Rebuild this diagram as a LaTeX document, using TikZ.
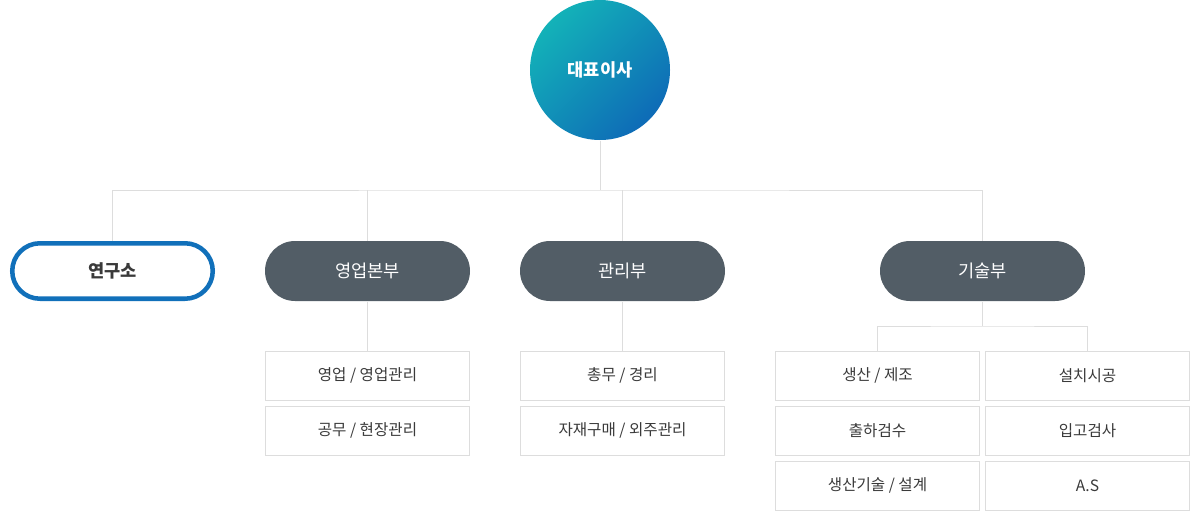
\documentclass[tikz,border=0pt]{standalone}
\usepackage{fontspec}
\setmainfont{Noto Sans CJK KR}
\usetikzlibrary{shapes.misc}
\definecolor{ceoTeal}{HTML}{13B2B8}
\definecolor{ceoBlue}{HTML}{0E6BB7}
\definecolor{deptGray}{HTML}{525D66}
\definecolor{labBlue}{HTML}{1170BA}
\definecolor{lineGray}{HTML}{DDDDDD}
\definecolor{textGray}{HTML}{3A3A3A}
\tikzset{every picture/.style={line width=0.75pt},
  link/.style={draw=lineGray, line width=0.75pt},
  dept/.style={rounded rectangle, fill=deptGray, text=white, minimum width=153.75pt, minimum height=45pt, inner sep=0pt, font=\fontsize{13.2pt}{15pt}\selectfont},
  labdept/.style={rounded rectangle, draw=labBlue, line width=3.4pt, fill=white, text=textGray, minimum width=150.4pt, minimum height=41.6pt, inner sep=0pt, font=\fontsize{13.2pt}{15pt}\selectfont\bfseries},
  team/.style={rectangle, draw=lineGray, line width=0.75pt, fill=white, text=textGray, minimum width=153pt, minimum height=36.75pt, inner sep=0pt, font=\fontsize{11.7pt}{14pt}\selectfont}
}

\begin{document}
\begin{tikzpicture}[x=0.75pt,y=0.75pt,yscale=-1,xscale=1]
\useasboundingbox (0,0) rectangle (1200,511);

%Circle
\node (ceo) [circle, minimum size=105pt, inner sep=0pt, top color=ceoTeal, bottom color=ceoBlue, shading angle=45, text=white, font=\fontsize{13.2pt}{15pt}\selectfont\bfseries] at (600,70) {대표이사};

%Rounded Rect
\node (lab) [labdept] at (112.5,271) {연구소};
\node (sales) [dept] at (367.5,271) {영업본부};
\node (admin) [dept] at (622.5,271) {관리부};
\node (tech) [dept] at (982.5,271) {기술부};

%Shape: Rectangle
\node (sales1) [team] at (367.5,375.5) {영업 / 영업관리};
\node (sales2) [team] at (367.5,430.5) {공무 / 현장관리};
\node (admin1) [team] at (622.5,375.5) {총무 / 경리};
\node (admin2) [team] at (622.5,430.5) {자재구매 / 외주관리};
\node (prod1) [team] at (877.5,375.5) {생산 / 제조};
\node (prod2) [team] at (877.5,430.5) {출하검수};
\node (prod3) [team] at (877.5,485.5) {생산기술 / 설계};
\node (inst1) [team] at (1087.5,375.5) {설치시공};
\node (inst2) [team] at (1087.5,430.5) {입고검사};
\node (inst3) [team] at (1087.5,485.5) {A.S};

\coordinate (bus) at (600,190);
\coordinate (techbus) at (982.5,326);

%Straight Lines
\draw [link] (ceo.south) -- (bus);
\draw [link] (lab.north) |- (bus) -| (tech.north);
\draw [link] (sales.north |- bus) -- (sales.north);
\draw [link] (admin.north |- bus) -- (admin.north);
\draw [link] (sales.south) -- (sales1.north);
\draw [link] (admin.south) -- (admin1.north);
\draw [link] (tech.south) -- (techbus);
\draw [link] (prod1.north) |- (techbus) -| (inst1.north);

\end{tikzpicture}
\end{document}
